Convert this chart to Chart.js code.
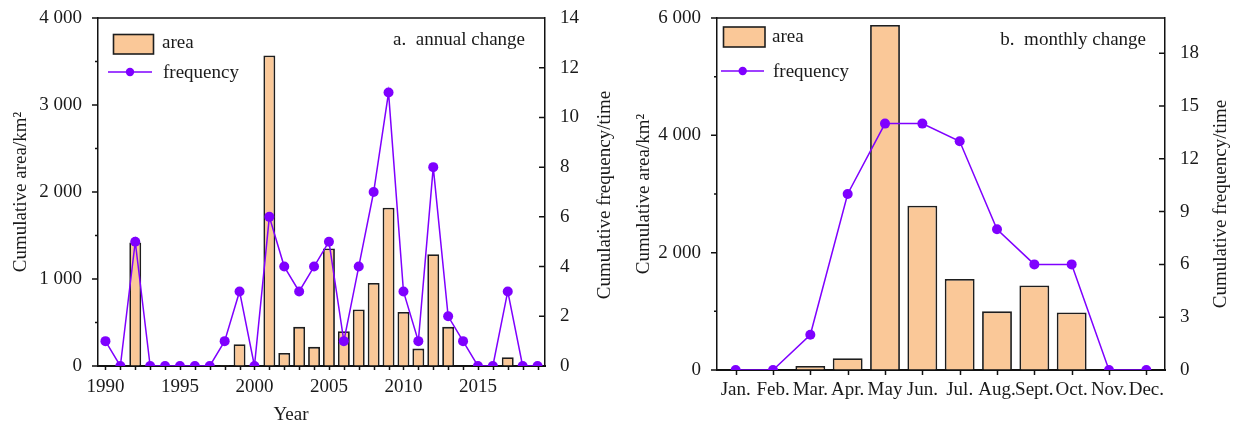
<!DOCTYPE html>
<html>
<head>
<meta charset="utf-8">
<script src="https://cdn.jsdelivr.net/npm/chart.js@4.4.0/dist/chart.umd.min.js"></script>
<style>
  html, body { margin: 0; padding: 0; background: #fff; width: 1234px; height: 423px; overflow: hidden; }
  canvas { position: absolute; top: 0; }
  #annual { left: 0; }
  #monthly { left: 620px; }
</style>
</head>
<body>
<canvas id="annual" width="620" height="423"></canvas>
<canvas id="monthly" width="614" height="423"></canvas>
<script>
// ---- annual series ----
const years = ['1990','1991','1992','1993','1994','1995','1996','1997','1998','1999',
               '2000','2001','2002','2003','2004','2005','2006','2007','2008','2009',
               '2010','2011','2012','2013','2014','2015','2016','2017','2018','2019'];
const annualArea = [5, 0, 1420, 0, 0, 0, 0, 0, 10, 250,
                    0, 3570, 150, 450, 220, 1350, 400, 650, 955, 1820,
                    620, 200, 1285, 450, 5, 0, 0, 100, 0, 0];
const annualFreq = [1, 0, 5, 0, 0, 0, 0, 0, 1, 3,
                    0, 6, 4, 3, 4, 5, 1, 4, 7, 11,
                    3, 1, 8, 2, 1, 0, 0, 3, 0, 0];
const yearLabels = ['1990','1995','2000','2005','2010','2015'];
const annualAreaTicks = [0, 1000, 2000, 3000, 4000];
const annualAreaMinor = [500, 1500, 2500, 3500];
const annualFreqTicks = [0, 2, 4, 6, 8, 10, 12, 14];

// ---- monthly series ----
const months = ['Jan.','Feb.','Mar.','Apr.','May','Jun.','Jul.','Aug.','Sept.','Oct.','Nov.','Dec.'];
const monthlyArea = [0, 0, 70, 200, 5880, 2800, 1550, 1000, 1440, 980, 0, 0];
const monthlyFreq = [0, 0, 2, 10, 14, 14, 13, 8, 6, 6, 0, 0];
const monthlyAreaTicks = [0, 2000, 4000, 6000];
const monthlyAreaMinor = [1000, 3000, 5000];
const monthlyFreqTicks = [0, 3, 6, 9, 12, 15, 18];

const SERIF = "'Liberation Serif', 'Times New Roman', serif";
const FONT_SIZE = 19;
const INK = '#1a1a1a';
const BAR_FILL = '#fac898';
const BAR_EDGE = '#1e1e1e';
const VIOLET = '#7f00ff';

Chart.defaults.font.family = SERIF;
Chart.defaults.font.size = FONT_SIZE;
Chart.defaults.color = INK;

const thousands = v => String(v).replace(/\B(?=(\d{3})+(?!\d))/g, ' ');
const fixTicks = list => scale => { scale.ticks = list.map(v => ({ value: v })); };
const fixWidth = w => s => { s.width = w; s.paddingTop = 0; s.paddingBottom = 0; };

// box frame, tick marks, right-hand title, panel caption and legend
const decorPlugin = {
  id: 'decor',
  beforeDatasetsDraw(chart, args, o) {
    const { ctx, chartArea: a, scales } = chart;
    ctx.save();
    ctx.strokeStyle = '#111';
    ctx.lineWidth = 1.5;
    ctx.beginPath();
    ctx.moveTo(a.left, a.top); ctx.lineTo(a.right, a.top);
    // category ticks (outward)
    const x = scales.x;
    x.ticks.forEach((t, i) => {
      const px = Math.round(x.getPixelForTick(i)) + 0.5;
      ctx.moveTo(px, a.bottom); ctx.lineTo(px, a.bottom + o.xTick);
    });
    // left value ticks (outward) with minor ticks
    const yl = scales.yArea;
    yl.ticks.forEach(t => {
      const py = yl.getPixelForValue(t.value);
      ctx.moveTo(a.left, py); ctx.lineTo(a.left - 6, py);
    });
    o.minor.forEach(v => {
      const py = yl.getPixelForValue(v);
      ctx.moveTo(a.left, py); ctx.lineTo(a.left - 3, py);
    });
    // right value ticks (inward)
    const yr = scales.yFreq;
    yr.ticks.forEach(t => {
      const py = yr.getPixelForValue(t.value);
      ctx.moveTo(a.right, py); ctx.lineTo(a.right - 6, py);
    });
    ctx.stroke();

    ctx.fillStyle = INK;
    ctx.font = FONT_SIZE + 'px ' + SERIF;
    // right axis title, reading bottom to top
    ctx.save();
    ctx.translate(o.rightTitle.x, o.rightTitle.y);
    ctx.rotate(-Math.PI / 2);
    ctx.textAlign = 'center';
    ctx.textBaseline = 'middle';
    ctx.fillText(o.rightTitle.text, 0, 0);
    ctx.restore();

    if (o.xTitle) {
      ctx.textAlign = 'center';
      ctx.textBaseline = 'middle';
      ctx.fillText(o.xTitle.text, o.xTitle.x, o.xTitle.y);
    }

    // panel caption
    ctx.textAlign = 'right';
    ctx.textBaseline = 'alphabetic';
    ctx.fillText(o.caption.text, o.caption.x, o.caption.y);

    // legend
    const L = o.legend;
    ctx.fillStyle = BAR_FILL;
    ctx.fillRect(L.box.x, L.box.y, L.box.w, L.box.h);
    ctx.strokeStyle = BAR_EDGE;
    ctx.lineWidth = 1.6;
    ctx.strokeRect(L.box.x, L.box.y, L.box.w, L.box.h);
    ctx.strokeStyle = VIOLET;
    ctx.lineWidth = 1.5;
    ctx.beginPath();
    ctx.moveTo(L.line.x1, L.line.y); ctx.lineTo(L.line.x2, L.line.y);
    ctx.stroke();
    ctx.fillStyle = VIOLET;
    ctx.beginPath();
    ctx.arc(L.line.dot, L.line.y, 4.2, 0, Math.PI * 2);
    ctx.fill();
    ctx.fillStyle = INK;
    ctx.textAlign = 'left';
    ctx.fillText('area', L.areaText.x, L.areaText.y);
    ctx.fillText('frequency', L.freqText.x, L.freqText.y);
    ctx.restore();
  }
};

function buildChart(id, cfg) {
  return new Chart(document.getElementById(id), {
    data: {
      labels: cfg.labels,
      datasets: [
        {
          type: 'line', label: 'frequency', data: cfg.freq, yAxisID: 'yFreq', order: 0,
          borderColor: VIOLET, borderWidth: 1.5, tension: 0,
          pointRadius: 5, pointBackgroundColor: VIOLET, pointBorderWidth: 0
        },
        {
          type: 'bar', label: 'area', data: cfg.area, yAxisID: 'yArea', order: 1,
          backgroundColor: BAR_FILL, borderColor: BAR_EDGE, borderWidth: 1.8,
          barPercentage: 0.8, categoryPercentage: 1.0
        }
      ]
    },
    options: {
      responsive: false,
      animation: false,
      devicePixelRatio: 1,
      layout: { padding: { top: 18, left: 0, right: 0, bottom: 0 } },
      plugins: { legend: { display: false }, tooltip: { enabled: false }, decor: cfg.decor },
      scales: {
        x: {
          type: 'category', offset: true,
          grid: { display: true, drawOnChartArea: false, drawTicks: false },
          border: { display: true, color: '#111', width: 2 },
          ticks: {
            autoSkip: false, maxRotation: 0, minRotation: 0, padding: cfg.xPad,
            callback: cfg.xLabel
          },
          afterFit: s => { s.height = cfg.xHeight; s.paddingLeft = 0; s.paddingRight = 0; }
        },
        yArea: {
          type: 'linear', position: 'left', min: 0, max: cfg.areaMax,
          grid: { display: true, drawOnChartArea: false, drawTicks: false },
          border: { display: true, color: '#111', width: 1.5 },
          ticks: { padding: 16, callback: v => thousands(v) },
          afterBuildTicks: fixTicks(cfg.areaTicks),
          title: { display: true, text: 'Cumulative area/km\u00b2', padding: { top: cfg.leftTitlePad, bottom: 0 } },
          afterFit: fixWidth(cfg.leftWidth)
        },
        yFreq: {
          type: 'linear', position: 'right', min: 0, max: cfg.freqMax,
          grid: { display: true, drawOnChartArea: false, drawTicks: false },
          border: { display: true, color: '#111', width: 1.5 },
          ticks: { padding: 15 },
          afterBuildTicks: fixTicks(cfg.freqTicks),
          afterFit: fixWidth(cfg.rightWidth)
        }
      }
    },
    plugins: [decorPlugin]
  });
}

buildChart('annual', {
  labels: years, area: annualArea, freq: annualFreq,
  areaMax: 4000, freqMax: 14,
  areaTicks: annualAreaTicks, freqTicks: annualFreqTicks,
  xLabel: (v, i) => (yearLabels.includes(years[i]) ? years[i] : ''),
  xPad: 10, xHeight: 57, leftWidth: 98, rightWidth: 75, leftTitlePad: 10,
  decor: {
    xTick: 4, minor: annualAreaMinor,
    rightTitle: { text: 'Cumulative frequency/time', x: 605, y: 195 },
    xTitle: { text: 'Year', x: 291, y: 415 },
    caption: { text: 'a.  annual change', x: 525, y: 45 },
    legend: {
      box: { x: 113.5, y: 34.5, w: 40, h: 19.5 },
      line: { x1: 108, x2: 152, y: 72, dot: 130 },
      areaText: { x: 162, y: 48 },
      freqText: { x: 163, y: 77.5 }
    }
  }
});

buildChart('monthly', {
  labels: months, area: monthlyArea, freq: monthlyFreq,
  areaMax: 6000, freqMax: 20,
  areaTicks: monthlyAreaTicks, freqTicks: monthlyFreqTicks,
  xLabel: (v, i) => months[i],
  xPad: 9, xHeight: 53, leftWidth: 97, rightWidth: 69, leftTitlePad: 13,
  decor: {
    xTick: 5, minor: monthlyAreaMinor,
    rightTitle: { text: 'Cumulative frequency/time', x: 601, y: 204 },
    xTitle: null,
    caption: { text: 'b.  monthly change', x: 526, y: 45 },
    legend: {
      box: { x: 103.5, y: 27, w: 41.5, h: 20 },
      line: { x1: 101, x2: 144, y: 71, dot: 122.7 },
      areaText: { x: 152, y: 41.5 },
      freqText: { x: 153, y: 77 }
    }
  }
});
</script>
</body>
</html>
